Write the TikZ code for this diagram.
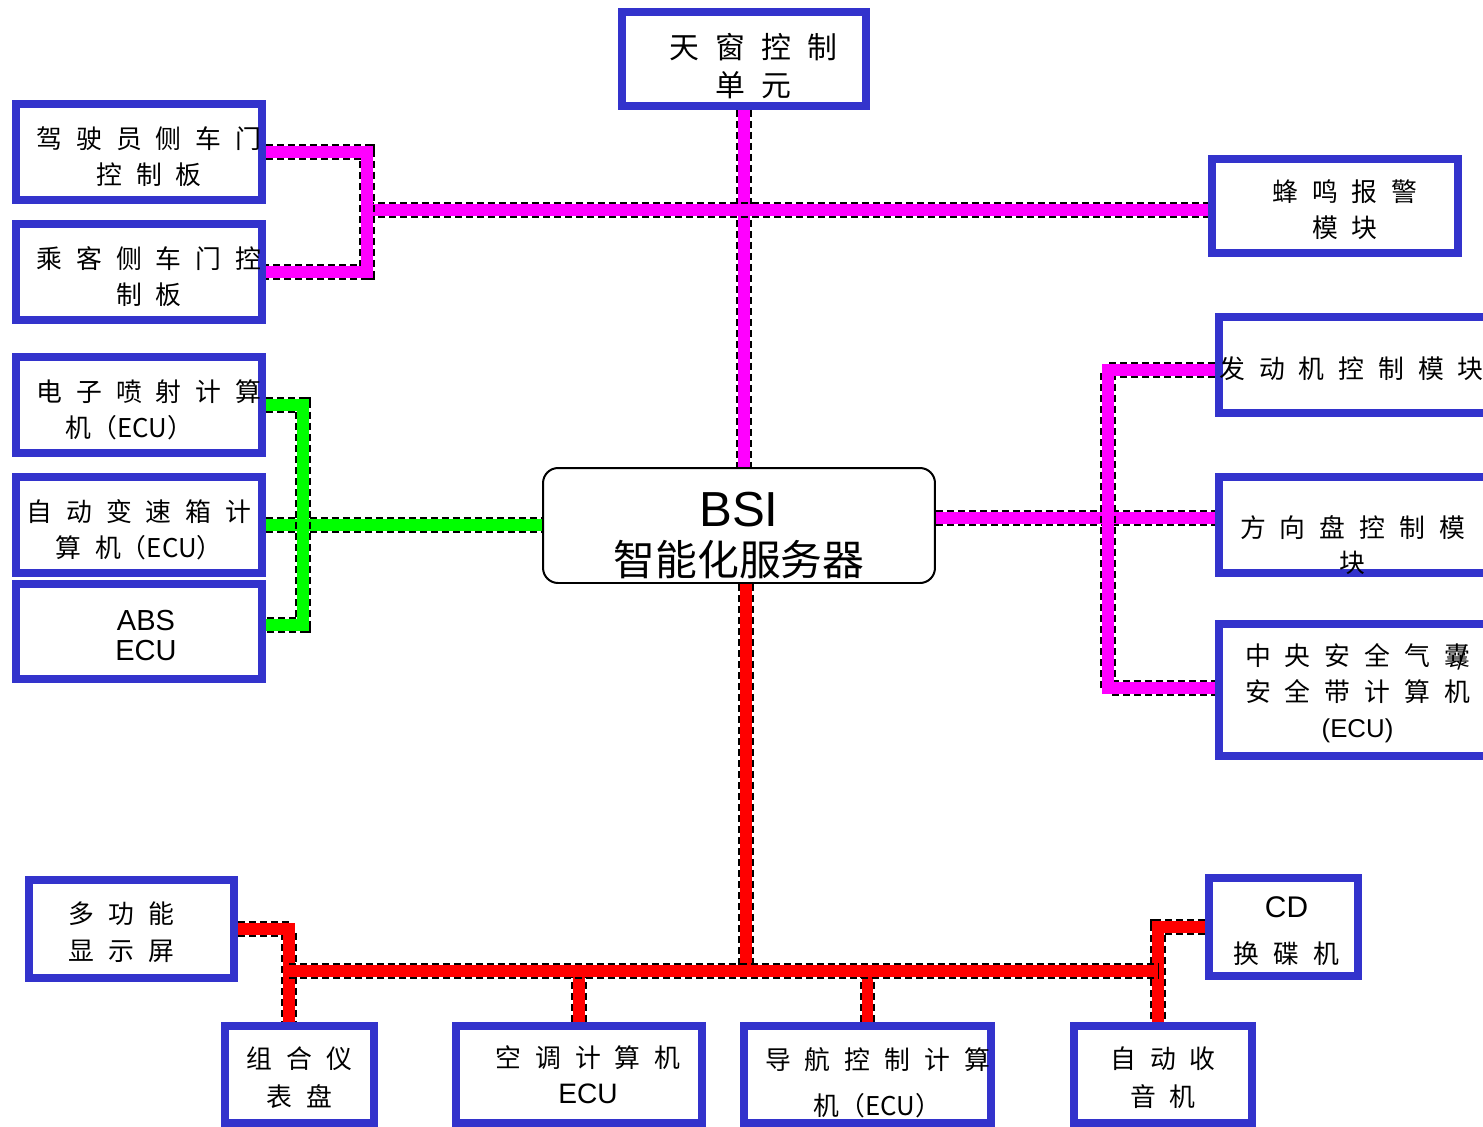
\documentclass[tikz,border=0pt]{standalone}
\usepackage{fontspec}
\setmainfont{Liberation Sans}
\newfontfamily\cjk{Noto Sans CJK SC}
\usepackage{tikz}
\usetikzlibrary{positioning}
\usepackage{xcolor}
\definecolor{boxblue}{RGB}{51,51,204}
\definecolor{busmag}{RGB}{255,0,255}
\definecolor{busgreen}{RGB}{0,255,0}
\definecolor{busred}{RGB}{255,0,0}
\newcommand\gp{\hspace{0.54em}}
\newcommand\boxfont{\cjk\fontsize{14.7pt}{20.4pt}\selectfont}
\tikzset{
  ecubox/.style={rectangle, draw=boxblue, line width=0.16cm, fill=white, inner sep=0pt},
  boxtext/.style={align=center, inner sep=0pt, font=\boxfont},
  bsibox/.style={rectangle, rounded corners=0.3cm, draw=black, line width=0.04cm, fill=white, inner sep=0pt, align=center},
  bus/.style={draw=#1, line width=0.23cm,
    preaction={draw=black, line width=0.31cm, dash pattern=on 0.14cm off 0.08cm}}
}

\begin{document}
\begin{tikzpicture}[x=0.02cm, y=-0.02cm]
\useasboundingbox (0,0) rectangle (1483,1126);
\clip (0,0) rectangle (1483,1126);

% centre
\node (bsi) [bsibox, minimum width=7.84cm, minimum height=2.3cm, font=\fontsize{28pt}{28pt}\selectfont] at (739,525.5)
  {\rule{0pt}{31pt}BSI\\{\cjk\fontsize{23.8pt}{26pt}\selectfont 智能化服务器}};

% boxes
\node (sunroof) [ecubox, minimum width=4.88cm, minimum height=1.88cm] at (744,59) {};
\node (driver) [ecubox, minimum width=4.92cm, minimum height=1.92cm] at (139,152) {};
\node (passenger) [ecubox, minimum width=4.92cm, minimum height=1.92cm] at (139,272) {};
\node (buzzer) [ecubox, minimum width=4.92cm, minimum height=1.88cm] at (1335,206) {};
\node (injection) [ecubox, minimum width=4.92cm, minimum height=1.92cm] at (139,405) {};
\node (gearbox) [ecubox, minimum width=4.92cm, minimum height=1.92cm] at (139,525) {};
\node (abs) [ecubox, minimum width=4.92cm, minimum height=1.9cm] at (139,631.5) {};
\node (engine) [ecubox, minimum width=5.54cm, minimum height=1.92cm] at (1357.5,365) {};
\node (steering) [ecubox, minimum width=5.54cm, minimum height=1.92cm] at (1357.5,525) {};
\node (airbag) [ecubox, minimum width=5.54cm, minimum height=2.64cm] at (1357.5,690) {};
\node (mfd) [ecubox, minimum width=4.1cm, minimum height=1.96cm] at (131.5,929) {};
\node (cd) [ecubox, minimum width=2.98cm, minimum height=1.96cm] at (1283.5,927) {};
\node (cluster) [ecubox, minimum width=2.98cm, minimum height=1.94cm] at (299.5,1074.5) {};
\node (aircon) [ecubox, minimum width=4.92cm, minimum height=1.94cm] at (579,1074.5) {};
\node (nav) [ecubox, minimum width=4.94cm, minimum height=1.94cm] at (867.5,1074.5) {};
\node (radio) [ecubox, minimum width=3.56cm, minimum height=1.94cm] at (1163,1074.5) {};

% box texts
\node (sunrooftxt) [boxtext, font=\cjk\fontsize{17pt}{21.5pt}\selectfont] at ([xshift=0.18cm, yshift=-0.14cm]sunroof.center)
  {天\gp{}窗\gp{}控\gp{}制\\单\gp{}元};
\node (drivertxt) [boxtext] at ([xshift=0.2cm, yshift=-0.1cm]driver.center)
  {驾\gp{}驶\gp{}员\gp{}侧\gp{}车\gp{}门\\控\gp{}制\gp{}板};
\node (passengertxt) [boxtext] at ([xshift=0.2cm, yshift=-0.1cm]passenger.center)
  {乘\gp{}客\gp{}侧\gp{}车\gp{}门\gp{}控\\制\gp{}板};
\node (buzzertxt) [boxtext] at ([xshift=0.2cm, yshift=-0.08cm]buzzer.center)
  {蜂\gp{}鸣\gp{}报\gp{}警\\模\gp{}块};
\node (injectiontxt) [boxtext] at ([xshift=0.2cm, yshift=-0.1cm]injection.center)
  {电\gp{}子\gp{}喷\gp{}射\gp{}计\gp{}算\\机（ECU）\hspace*{1.5em}};
\node (gearboxtxt) [boxtext] at ([yshift=-0.1cm]gearbox.center)
  {自\gp{}动\gp{}变\gp{}速\gp{}箱\gp{}计\\算\gp{}机（ECU）};
\node (abstxt) [boxtext, font=\fontsize{16.5pt}{17pt}\selectfont] at ([xshift=0.14cm, yshift=-0.08cm]abs.center)
  {ABS\\ECU};
\node (enginetxt) [boxtext] at ([xshift=-0.12cm, yshift=-0.08cm]engine.center)
  {发\gp{}动\gp{}机\gp{}控\gp{}制\gp{}模\gp{}块};
\node (steeringtxt) [boxtext] at ([xshift=-0.1cm, yshift=-0.4cm]steering.center)
  {方\gp{}向\gp{}盘\gp{}控\gp{}制\gp{}模\\块};
\node (airbagtxt) [boxtext] at ([yshift=-0.06cm]airbag.center)
  {中\gp{}央\gp{}安\gp{}全\gp{}气\gp{}囊\llap{/\kern0.1em}\\安\gp{}全\gp{}带\gp{}计\gp{}算\gp{}机\\{\normalfont (ECU)}};
\node (mfdtxt) [boxtext, font=\cjk\fontsize{14.7pt}{21pt}\selectfont] at ([xshift=-0.2cm, yshift=-0.06cm]mfd.center)
  {多\gp{}功\gp{}能\\显\gp{}示\gp{}屏};
\node (cdtxt) [boxtext] at ([xshift=0.06cm, yshift=-0.08cm]cd.center)
  {{\normalfont\fontsize{17pt}{17pt}\selectfont CD}\\[6pt]换\gp{}碟\gp{}机};
\node (clustertxt) [boxtext, font=\cjk\fontsize{14.7pt}{21.5pt}\selectfont] at ([yshift=-0.06cm]cluster.center)
  {组\gp{}合\gp{}仪\\表\gp{}盘};
\node (aircontxt) [boxtext] at ([xshift=0.18cm]aircon.center)
  {空\gp{}调\gp{}计\gp{}算\gp{}机\\{\normalfont\fontsize{16pt}{16pt}\selectfont ECU}};
\node (navtxt) [boxtext] at ([xshift=0.2cm, yshift=-0.16cm]nav.center)
  {导\gp{}航\gp{}控\gp{}制\gp{}计\gp{}算\\[6pt]机（ECU）};
\node (radiotxt) [boxtext, font=\cjk\fontsize{14.7pt}{21.5pt}\selectfont] at ([yshift=-0.06cm]radio.center)
  {自\gp{}动\gp{}收\\音\gp{}机};

% magenta bus
\coordinate (mleft) at (367,210);
\coordinate (mright) at (1108,518);
\draw[bus=busmag] (sunroof.south) -- (sunroof.south |- bsi.north);
\draw[bus=busmag] (mleft) -- (mleft -| buzzer.west);
\draw[bus=busmag] (driver.east) -| (mleft) |- (passenger.east);
\draw[bus=busmag] (mright -| bsi.east) -- (mright -| steering.west);
\draw[bus=busmag] ([yshift=-0.1cm]engine.west) -| (mright) |- ([yshift=0.04cm]airbag.west);

% green bus
\coordinate (gj) at (303,524);
\draw[bus=busgreen] (gearbox.east) -- (gearbox.east -| bsi.west);
\draw[bus=busgreen] (injection.east) -| (gj) |- ([yshift=0.13cm]abs.east);

% red bus
\coordinate (rj) at (746,971);
\coordinate (rl) at (289,971);
\coordinate (rr) at (1158,971);
\draw[bus=busred] (rj |- bsi.south) -- (rj);
\draw[bus=busred] (aircon.north |- rl) -- (aircon.north);
\draw[bus=busred] (nav.north |- rl) -- (nav.north);
\draw[bus=busred] (mfd.east) -| (rl |- cluster.north);
\draw[bus=busred] (cd.west) -| (rr |- radio.north);
\draw[bus=busred] (rl) -- (rr);
\end{tikzpicture}
\end{document}
